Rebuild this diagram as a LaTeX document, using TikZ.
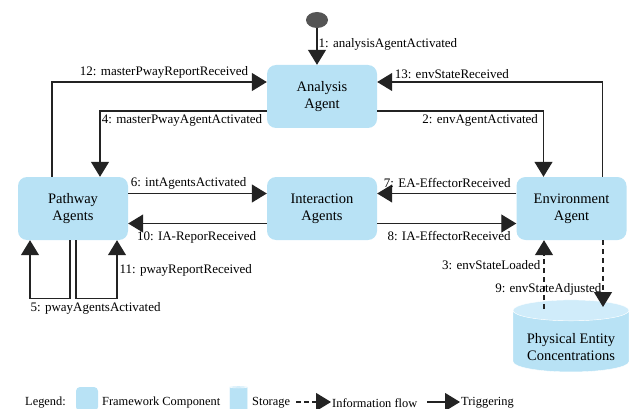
\documentclass[tikz,border=0pt]{standalone}
\usepackage{fontspec}
\setmainfont{Liberation Serif}
\usetikzlibrary{arrows.meta,shapes.geometric}
\definecolor{boxblue}{RGB}{184,226,245}
\definecolor{toplight}{RGB}{208,236,250}
\definecolor{dotgray}{RGB}{85,85,85}
\definecolor{linegray}{RGB}{35,35,35}

\begin{document}
\begin{tikzpicture}[x=1pt,y=-1pt]
    \useasboundingbox (0,0) rectangle (629,409);
    \tikzset{comp/.style = {shape=rectangle,rounded corners=9pt,fill=boxblue,minimum width=110pt,minimum height=63pt,align=center,font=\fontsize{14.5}{17}\selectfont}}
    \tikzset{store/.style = {shape=cylinder,shape border rotate=90,aspect=0.22,cylinder uses custom fill,cylinder body fill=boxblue,cylinder end fill=toplight,draw=white,thin,align=center,font=\fontsize{14.5}{17}\selectfont}}
    \tikzset{lbl/.style = {font=\fontsize{13}{15}\selectfont,inner sep=1pt}}
    \tikzset{leg/.style = {font=\fontsize{12.4}{15}\selectfont,inner sep=1pt,anchor=west}}
    \tikzset{trig/.style = {draw=linegray,line width=1.2pt,-{Triangle[length=15pt,width=18pt]}}}
    \tikzset{info/.style = {trig,dashed,dash pattern=on 5pt off 4pt}}
    \node[ellipse,fill=dotgray,minimum width=22pt,minimum height=16pt,inner sep=0pt] (S) at (317,20) {};
    \node[comp] (A) at (322,96.5) {Analysis\\Agent};
    \node[comp] (P) at (73,208.5) {Pathway\\Agents};
    \node[comp] (I) at (322,208.5) {Interaction\\Agents};
    \node[comp] (E) at (571.5,208.5) {Environment\\Agent};
    \node[store,minimum width=116pt,minimum height=72pt] (D) at (571,343) {\\[2pt]Physical Entity\\Concentrations};
    \coordinate (d3) at (544,309);
    \coordinate (d9) at (603,307);
    %edges
    \draw[trig] (S) -- node[lbl,right,pos=0.45]{1: analysisAgentActivated} (S |- A.north);
    \draw[trig] ([xshift=-21pt]P.north) |- node[lbl,above left,pos=1,xshift=-17pt,yshift=2pt]{12: masterPwayReportReceived} ([yshift=14.5pt]A.west);
    \draw[trig] ([yshift=-14.5pt]A.west) -| node[lbl,below left,pos=0,xshift=-3pt,yshift=-2pt]{4: masterPwayAgentActivated} ([xshift=27pt]P.north);
    \draw[trig] ([xshift=31pt]E.north) |- node[lbl,above right,pos=1,xshift=16pt,yshift=2pt]{13: envStateReceived} ([yshift=14.5pt]A.east);
    \draw[trig] ([yshift=-14.5pt]A.east) -| node[lbl,below left,pos=0.5,xshift=-4pt,yshift=-2pt]{2: envAgentActivated} ([xshift=-28pt]E.north);
    \draw[trig] ([yshift=15pt]P.east) -- node[lbl,above right,pos=0,xshift=1pt,yshift=3pt]{6: intAgentsActivated} ([yshift=15pt]I.west);
    \draw[trig] ([yshift=-15pt]I.west) -- node[lbl,below left,pos=0,xshift=-9pt,yshift=-6pt]{10: IA-ReporReceived} ([yshift=-15pt]P.east);
    \draw[trig] ([yshift=15pt]E.west) -- node[lbl,above left,pos=0,xshift=-4pt,yshift=4pt]{7: EA-EffectorReceived} ([yshift=15pt]I.east);
    \draw[trig] ([yshift=-15pt]I.east) -- node[lbl,below left,pos=1,xshift=-4pt,yshift=-6pt]{8: IA-EffectorReceived} ([yshift=-15pt]E.west);
    \draw[trig] ([xshift=-3pt]P.south) -- ++(0,58) node[lbl,below right,pos=1,xshift=-41pt,yshift=-3pt]{5: pwayAgentsActivated} -| ([xshift=-43pt]P.south);
    \draw[trig] ([xshift=3pt]P.south) -- ++(0,58) -| node[lbl,right,pos=0.74,xshift=1pt]{11: pwayReportReceived} ([xshift=44pt]P.south);
    \draw[info] (d3) -- node[lbl,left,pos=0.64,xshift=-2pt]{3: envStateLoaded} (E.south -| d3);
    \draw[info] (E.south -| d9) -- node[lbl,left,pos=0.73]{9: envStateAdjusted} (d9);
    %legend
    \node[leg] (L) at (24,403) {Legend:};
    \node[comp,minimum width=22pt,minimum height=24pt,rounded corners=4pt] (LC) at (87,399) {};
    \node[leg] (LCt) at (101,403) {Framework Component};
    \node[store,minimum width=18pt,minimum height=26pt,aspect=0.3] (LS) at (238.5,400) {};
    \node[leg] (LSt) at (251,403) {Storage};
    \coordinate (li) at (296,402);
    \node[leg] (LIt) at (331,403) {Information flow};
    \coordinate (lt) at (427,402);
    \node[leg] (LTt) at (460,403) {Triggering};
    \draw[info,dash pattern=on 5pt off 3pt] (li) -- (LIt.west |- li);
    \draw[trig] (lt) -- (LTt.west |- lt);
\end{tikzpicture}
\end{document}
